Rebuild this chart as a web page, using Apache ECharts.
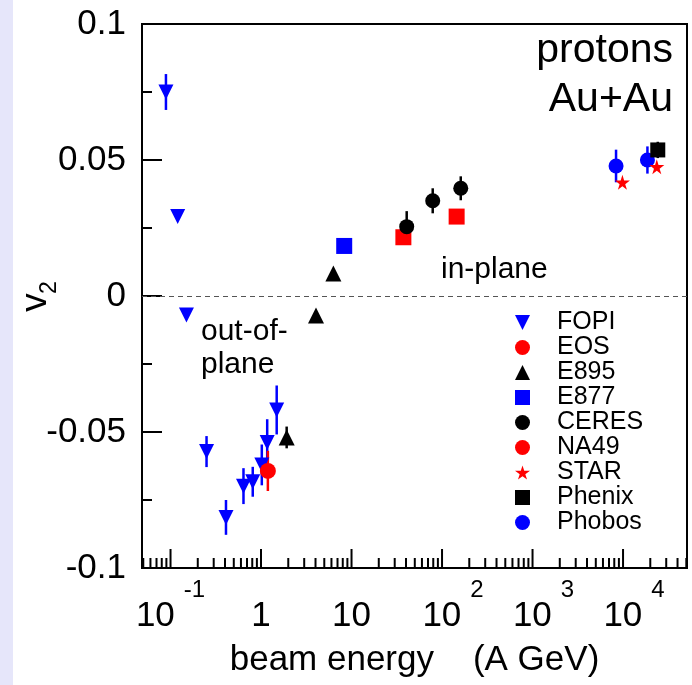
<!DOCTYPE html>
<html><head><meta charset="utf-8">
<script src="https://cdn.jsdelivr.net/npm/echarts@6/dist/echarts.min.js"></script>
<style>html,body{margin:0;padding:0;background:#fff}#c{width:692px;height:685px}</style>
</head><body><div id="c"></div>
<script>
const FONT = '"Liberation Sans", Arial, Helvetica, sans-serif';

// ---- data (beam energy in A GeV, v2, error) ----
const fopiE   = [0.089, 0.12, 0.15, 0.25, 0.41, 0.64, 0.81, 1.02, 1.17, 1.49];
const fopiV   = [0.075, 0.0292, -0.0070, -0.0572, -0.0814, -0.0699, -0.0683, -0.0621, -0.0539, -0.0419];
const fopiErr = [0.0066, 0, 0, 0.0057, 0.0064, 0.0066, 0.0055, 0.0075, 0.0086, 0.009];
const eosE = [1.19], eosV = [-0.0643], eosErr = [0.0074];
const e895E = [1.92, 4.05, 6.3], e895V = [-0.052, -0.0072, 0.0083], e895Err = [0.004, 0, 0];
const e877E = [8.3], e877V = [0.0184];
const ceresE = [40.7, 78.9, 161], ceresV = [0.0255, 0.035, 0.0396], ceresErr = [0.0057, 0.0046, 0.0044];
const na49E = [37.4, 145], na49V = [0.0216, 0.0292];
const starE = [9840, 23600], starV = [0.0418, 0.0475];
const phenixE = [24200], phenixV = [0.0537], phenixErr = [0.003];
const phobosE = [8370, 18600], phobosV = [0.0478, 0.050], phobosErr = [0.006, 0.005];

const legendNames = ['FOPI','EOS','E895','E877','CERES','NA49','STAR','Phenix','Phobos'];
const xMajorExponents = [-1, 0, 1, 2, 3, 4];
const yTickValues = [-0.1, -0.05, 0, 0.05, 0.1];

const xMin = 0.0484, xMax = 50900, yMin = -0.1, yMax = 0.1;
const BLUE = '#0000ff', RED = '#ff0000', BLACK = '#000000';
const DOWN_TRI = 'path://M0,0L10,0L5,10Z';
const STAR_P = 'path://M50,0L61,35L98,35L68,57L79,91L50,70L21,91L32,57L2,35L39,35Z';

// x tick marks (major + minor) for log axis
const xTicks = [];
for (let k = -2; k <= 4; k++) {
  for (let m = 1; m <= 9; m++) {
    const v = m * Math.pow(10, k);
    if (v >= xMin * 0.999 && v <= xMax) xTicks.push([v, yMin, m === 1 ? 19 : 10]);
  }
}

function pts(E, V) { return E.map((e, i) => [e, V[i]]); }
function errSeries(name, E, V, Err, color) {
  const d = [];
  E.forEach((e, i) => { if (Err[i] > 0) d.push([e, V[i] - Err[i], V[i] + Err[i]]); });
  return {
    type: 'custom', name: name + ' err', silent: true, data: d, encode: {x: 0, y: [1, 2]},
    renderItem: function (params, api) {
      const lo = api.coord([api.value(0), api.value(1)]);
      const hi = api.coord([api.value(0), api.value(2)]);
      return {type: 'line', shape: {x1: lo[0], y1: lo[1], x2: hi[0], y2: hi[1]},
              style: {stroke: color, lineWidth: 2.5}};
    }
  };
}
function sc(name, E, V, symbol, size, color, z) {
  return {type: 'scatter', name: name, data: pts(E, V), symbol: symbol, symbolSize: size,
          itemStyle: {color: color, opacity: 1}, z: z || 2, emphasis: {disabled: true}};
}

const series = [
  errSeries('FOPI', fopiE, fopiV, fopiErr, BLUE),
  Object.assign(sc('FOPI', fopiE, fopiV, DOWN_TRI, 15, BLUE), {
    markLine: {silent: true, symbol: 'none', label: {show: false},
      lineStyle: {type: [5, 4], color: '#555', width: 1}, emphasis: {disabled: true},
      data: [{yAxis: 0}]}
  }),
  errSeries('EOS', eosE, eosV, eosErr, RED),
  sc('EOS', eosE, eosV, 'circle', 16, RED),
  errSeries('E895', e895E, e895V, e895Err, BLACK),
  sc('E895', e895E, e895V, 'triangle', 16, BLACK),
  sc('E877', e877E, e877V, 'rect', 16, BLUE),
  sc('NA49', na49E, na49V, 'rect', 16, RED),
  errSeries('CERES', ceresE, ceresV, ceresErr, BLACK),
  sc('CERES', ceresE, ceresV, 'circle', 15, BLACK, 3),
  errSeries('Phobos', phobosE, phobosV, phobosErr, BLUE),
  sc('Phobos', phobosE, phobosV, 'circle', 15, BLUE, 3),
  sc('STAR', starE, starV, STAR_P, 15, RED, 4),
  errSeries('Phenix', phenixE, phenixV, phenixErr, BLACK),
  sc('Phenix', phenixE, phenixV, 'rect', 15, BLACK, 5),
  {
    type: 'custom', name: 'xticks', silent: true, z: 10, clip: false,
    data: xTicks, encode: {x: 0, y: 1},
    renderItem: function (params, api) {
      const p = api.coord([api.value(0), api.value(1)]);
      const len = api.value(2);
      return {type: 'line', shape: {x1: p[0], y1: p[1], x2: p[0], y2: p[1] - len},
              style: {stroke: '#000', lineWidth: 2}};
    }
  }
];

const legendIcons = {FOPI: DOWN_TRI, EOS: 'circle', E895: 'triangle', E877: 'rect', CERES: 'circle',
                     NA49: 'circle', STAR: STAR_P, Phenix: 'rect', Phobos: 'circle'};

const chart = echarts.init(document.getElementById('c'), null, {renderer: 'canvas'});
chart.setOption({
  animation: false,
  backgroundColor: '#fff',
  grid: {left: 142, top: 24, right: 5, bottom: 117, show: true, borderColor: '#000', borderWidth: 2,
         backgroundColor: 'transparent'},
  xAxis: {
    type: 'log', logBase: 10, min: xMin, max: xMax,
    axisLine: {onZero: false, lineStyle: {color: '#000', width: 2}},
    axisTick: {show: false}, splitLine: {show: false}, minorTick: {show: false},
    axisLabel: {
      margin: 10, color: '#000', fontFamily: FONT, showMinLabel: true, showMaxLabel: true,
      formatter: function (v) {
        const l = Math.log10(v), k = Math.round(l);
        if (Math.abs(l - k) > 1e-6 || xMajorExponents.indexOf(k) < 0) return '';
        const h = '{h|\u200b}';
        if (k === 0) return h + '{b|1}';
        if (k === 1) return h + '{b|10}';
        if (k < 0) return h + '{b|10}{s|' + k + '}';
        return h + '{sp|\u00a0}{b|10}{s|' + k + '}';
      },
      rich: {
        h: {lineHeight: 56, fontSize: 10},
        b: {fontSize: 35, lineHeight: 35, verticalAlign: 'bottom', fontFamily: FONT, color: '#000'},
        s: {fontSize: 24, lineHeight: 24, verticalAlign: 'top', fontFamily: FONT, color: '#000', padding: [0, 0, 0, 9]},
        sp: {width: 22, fontSize: 10}
      }
    },
    name: 'beam energy    (A GeV)', nameLocation: 'middle', nameGap: 75,
    nameTextStyle: {fontSize: 35, fontFamily: FONT, color: '#000'}
  },
  yAxis: {
    type: 'value', min: yMin, max: yMax, interval: 0.05,
    axisLine: {onZero: false, lineStyle: {color: '#000', width: 2}},
    axisTick: {inside: true, length: 20, lineStyle: {color: '#000', width: 2}},
    minorTick: {show: true, splitNumber: 2, length: 10, lineStyle: {color: '#000', width: 2}},
    splitLine: {show: false},
    axisLabel: {margin: 16, fontSize: 35, fontFamily: FONT, color: '#000',
      formatter: function (v) { return String(+v.toFixed(3)); }}
  },
  legend: {
    orient: 'vertical', left: 515, top: 310, padding: 0, itemGap: 0,
    itemWidth: 15, itemHeight: 15, selectedMode: false,
    textStyle: {fontSize: 25, lineHeight: 25, fontFamily: FONT, color: '#000', padding: [0, 0, 0, 22]},
    data: legendNames.map(n => ({name: n, icon: legendIcons[n]}))
  },
  graphic: [
    {type: 'rect', shape: {x: 0, y: 0, width: 13, height: 685}, style: {fill: '#e6e6fa'}, z: -10, silent: true},
    {type: 'text', x: 35.5, y: 302.5, rotation: Math.PI / 2,
     style: {text: 'v', font: '37px ' + FONT, fill: '#000', align: 'center', verticalAlign: 'middle',
             textAlign: 'center', textVerticalAlign: 'middle'}},
    {type: 'text', x: 50, y: 287.5, rotation: Math.PI / 2,
     style: {text: '2', font: '23px ' + FONT, fill: '#000', align: 'center', verticalAlign: 'middle',
             textAlign: 'center', textVerticalAlign: 'middle'}},
    {type: 'text', x: 673, y: 51,
     style: {text: 'protons', font: '41px ' + FONT, fill: '#000', align: 'right', verticalAlign: 'middle',
             textAlign: 'right', textVerticalAlign: 'middle'}},
    {type: 'text', x: 673, y: 100,
     style: {text: 'Au+Au', font: '41px ' + FONT, fill: '#000', align: 'right', verticalAlign: 'middle',
             textAlign: 'right', textVerticalAlign: 'middle'}},
    {type: 'text', x: 441, y: 269.5,
     style: {text: 'in-plane', font: '30px ' + FONT, fill: '#000', align: 'left', verticalAlign: 'middle',
             textAlign: 'left', textVerticalAlign: 'middle'}},
    {type: 'text', x: 201, y: 331.5,
     style: {text: 'out-of-', font: '30px ' + FONT, fill: '#000', align: 'left', verticalAlign: 'middle',
             textAlign: 'left', textVerticalAlign: 'middle'}},
    {type: 'text', x: 201, y: 364.5,
     style: {text: 'plane', font: '30px ' + FONT, fill: '#000', align: 'left', verticalAlign: 'middle',
             textAlign: 'left', textVerticalAlign: 'middle'}}
  ],
  series: series
});
</script></body></html>
